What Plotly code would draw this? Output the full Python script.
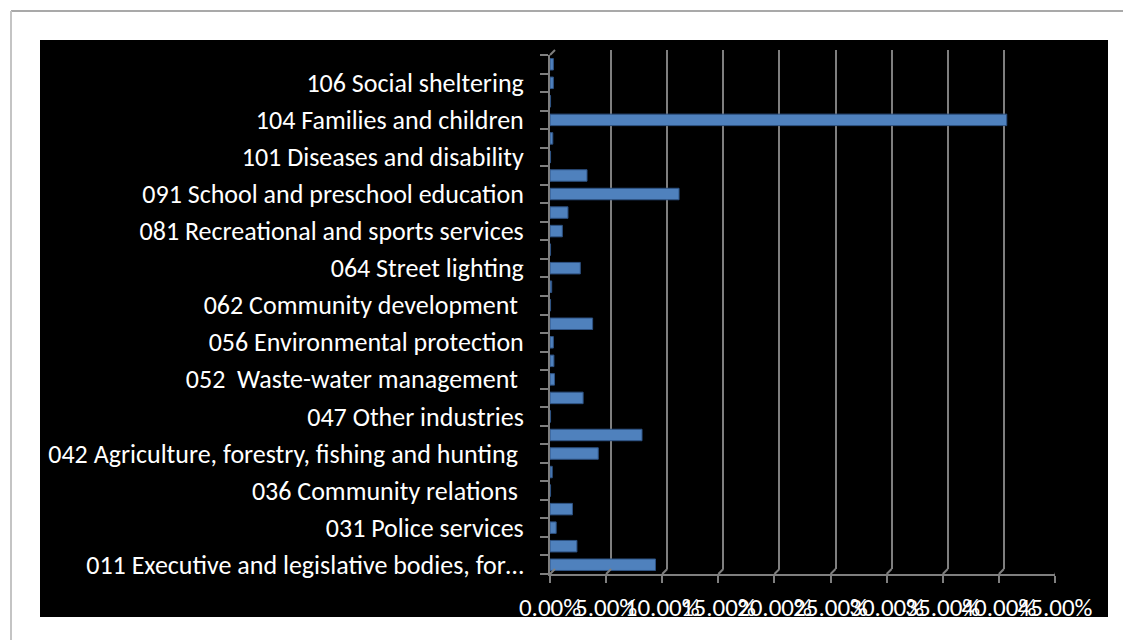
import plotly.graph_objects as go

# Budget shares by function (percent of total), listed bottom to top
categories = [
    "011 Executive and legislative bodies, for\u2026",
    "013 General services",
    "031 Police services",
    "032 Fire-protection services",
    "036 Community relations\u00a0",
    "041 General economic affairs",
    "042 Agriculture, forestry, fishing and hunting\u00a0",
    "045 Transport",
    "047 Other industries",
    "051 Waste management",
    "052\u00a0 Waste-water management\u00a0",
    "053 Pollution abatement",
    "056 Environmental protection",
    "061 Housing development",
    "062 Community development\u00a0",
    "063 Water supply",
    "064 Street lighting",
    "066 Housing and community amenities",
    "081 Recreational and sports services",
    "082 Cultural services",
    "091 School and preschool education",
    "096 Subsidiary services to education",
    "101 Diseases and disability",
    "102 Old age",
    "104 Families and children",
    "105 Unemployment",
    "106 Social sheltering",
    "107 Social exclusion",
]
shares = [
    9.4, 2.4, 0.55, 2.0, 0.05, 0.2, 4.3, 8.2, 0.05, 2.95,
    0.4, 0.35, 0.3, 3.8, 0.05, 0.15, 2.7, 0.05, 1.1, 1.6,
    11.5, 3.3, 0.05, 0.25, 40.7, 0.05, 0.3, 0.3,
]
# only every other category carries a visible label
tick_labels = [c if i % 2 == 0 else "" for i, c in enumerate(categories)]
x_ticks = [0, 5, 10, 15, 20, 25, 30, 35, 40, 45]

W, H = 1123, 640
# full plot region in pixels (front plane + back wall offset)
L, R, T, B = 550, 1060, 50, 574
DEPTH = 5  # pixel offset of the back wall
PW, PH = R - L, B - T


def px_x(p):
    return (p - L) / PW


def px_y(p):
    return (B - p) / PH


label_font = "Carlito, 'Liberation Sans Narrow', 'Roboto Condensed', Roboto, sans-serif"
grid_col = "#7f7f7f"

fig = go.Figure()

# back wall: carries only the vertical gridlines
fig.add_trace(go.Scatter(x=[0], y=[0], xaxis="x", yaxis="y", mode="markers",
                         marker=dict(opacity=0), hoverinfo="skip"))

# front plane: bars, axis lines, ticks and labels
fig.add_trace(
    go.Bar(
        y=categories,
        x=shares,
        orientation="h",
        width=0.62,
        xaxis="x2",
        yaxis="y2",
        marker=dict(color="#4F81BD", line=dict(color="#2E5283", width=1)),
    )
)

# slanted joins between back gridlines and front floor ticks
joins = [
    dict(type="line", xref="x2", yref="paper",
         xsizemode="pixel", xanchor=v, x0=0, x1=DEPTH,
         ysizemode="pixel", yanchor=0, y0=0, y1=DEPTH,
         line=dict(color=grid_col, width=2))
    for v in x_ticks
]

fig.update_layout(
    width=W,
    height=H,
    autosize=False,
    margin=dict(l=L, r=W - R, t=T, b=H - B, pad=0),
    paper_bgcolor="white",
    plot_bgcolor="rgba(0,0,0,0)",
    showlegend=False,
    shapes=[
        # black chart panel
        dict(type="rect", xref="paper", yref="paper", layer="below",
             x0=px_x(40), x1=px_x(1108), y0=px_y(617), y1=px_y(40),
             fillcolor="black", line=dict(width=0)),
        # page frame
        dict(type="line", xref="paper", yref="paper",
             x0=px_x(11), x1=px_x(1123), y0=px_y(11), y1=px_y(11),
             line=dict(color="#8c8c8c", width=1.5)),
        dict(type="line", xref="paper", yref="paper",
             x0=px_x(11), x1=px_x(11), y0=px_y(11), y1=px_y(640),
             line=dict(color="#c4c4c4", width=2)),
        # slanted top of the left wall
        dict(type="line", xref="paper", yref="paper",
             x0=0, x1=px_x(L + DEPTH), y0=px_y(T + DEPTH), y1=1,
             line=dict(color=grid_col, width=2)),
    ] + joins,
    xaxis=dict(
        domain=[DEPTH / PW, 1],
        anchor="y",
        range=[0, 45],
        tickvals=x_ticks,
        showticklabels=False,
        showgrid=True,
        gridcolor=grid_col,
        gridwidth=2,
        zeroline=False,
        showline=False,
    ),
    yaxis=dict(
        domain=[DEPTH / PH, 1],
        anchor="x",
        range=[0, 1],
        visible=False,
        showgrid=False,
    ),
    xaxis2=dict(
        domain=[0, 1 - DEPTH / PW],
        anchor="y2",
        range=[0, 45],
        tickvals=x_ticks,
        ticktext=[f"{v:.2f}%" for v in x_ticks],
        tickangle=0,
        showgrid=False,
        zeroline=False,
        showline=True,
        linecolor=grid_col,
        linewidth=2,
        ticks="outside",
        ticklen=7,
        tickcolor=grid_col,
        tickwidth=1.5,
        ticklabelstandoff=3,
        tickfont=dict(family=label_font, size=25, color="white"),
    ),
    yaxis2=dict(
        domain=[0, 1 - DEPTH / PH],
        anchor="x2",
        type="category",
        categoryorder="array",
        categoryarray=categories,
        tickvals=categories,
        ticktext=tick_labels,
        tickson="boundaries",
        showgrid=False,
        zeroline=False,
        showline=True,
        linecolor=grid_col,
        linewidth=2,
        ticks="outside",
        ticklen=8,
        tickcolor=grid_col,
        tickwidth=1.5,
        ticklabelstandoff=19,
        tickfont=dict(family=label_font, size=26, color="white"),
    ),
)

fig.write_html("out.html")
